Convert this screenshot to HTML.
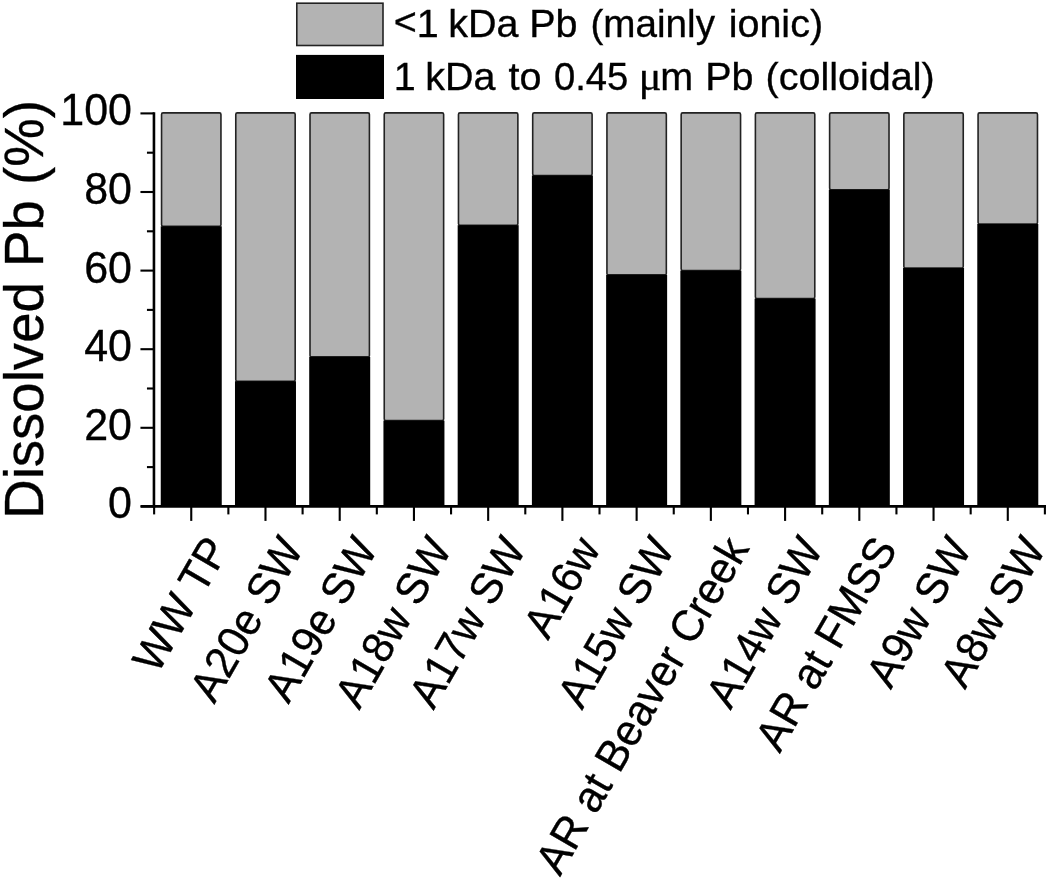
<!DOCTYPE html>
<html lang="en"><head><meta charset="utf-8"><title>Dissolved Pb chart</title>
<style>html,body{margin:0;padding:0;background:#fff;}svg{display:block;will-change:transform;}text{font-family:"Liberation Sans",sans-serif;fill:#000;stroke:#000;stroke-width:0.35px;}</style></head><body>
<svg width="1050" height="880" viewBox="0 0 1050 880">
<rect width="1050" height="880" fill="#fff"/>
<rect x="296.8" y="3.2" width="86.2" height="42.3" fill="#b3b3b3" stroke="#222" stroke-width="1.6"/>
<rect x="296" y="54.9" width="88" height="44.1" fill="#000"/>
<text y="36.8" font-size="39.5"><tspan x="393.66"><tspan dy="-1.7">&lt;</tspan><tspan dy="1.7">1</tspan></tspan> <tspan x="448.35">kDa</tspan> <tspan x="529.16">Pb</tspan> <tspan x="590.45" textLength="124.6" lengthAdjust="spacingAndGlyphs">(mainly</tspan> <tspan x="728.65">ionic)</tspan></text>
<text y="89.6" font-size="39.5"><tspan x="393.69">1</tspan> <tspan x="425.35">kDa</tspan> <tspan x="508.61">to</tspan> <tspan x="553.96" textLength="74.4" lengthAdjust="spacingAndGlyphs">0.45</tspan> <tspan x="638.68" font-size="42.27" style="font-family:'Liberation Serif',serif">μ</tspan><tspan x="660.29">m</tspan> <tspan x="705.26">Pb</tspan> <tspan x="765.55">(colloidal)</tspan></text>
<rect x="161.55" y="112.90" width="59.40" height="113.40" fill="#b3b3b3" stroke="#222" stroke-width="1.6" rx="1.5"/>
<rect x="160.75" y="226.30" width="61.00" height="280.10" fill="#000"/>
<rect x="235.78" y="112.90" width="59.40" height="268.30" fill="#b3b3b3" stroke="#222" stroke-width="1.6" rx="1.5"/>
<rect x="234.98" y="381.20" width="61.00" height="125.20" fill="#000"/>
<rect x="310.01" y="112.90" width="59.40" height="244.00" fill="#b3b3b3" stroke="#222" stroke-width="1.6" rx="1.5"/>
<rect x="309.21" y="356.90" width="61.00" height="149.50" fill="#000"/>
<rect x="384.24" y="112.90" width="59.40" height="307.70" fill="#b3b3b3" stroke="#222" stroke-width="1.6" rx="1.5"/>
<rect x="383.44" y="420.60" width="61.00" height="85.80" fill="#000"/>
<rect x="458.47" y="112.90" width="59.40" height="112.30" fill="#b3b3b3" stroke="#222" stroke-width="1.6" rx="1.5"/>
<rect x="457.67" y="225.20" width="61.00" height="281.20" fill="#000"/>
<rect x="532.70" y="112.90" width="59.40" height="62.60" fill="#b3b3b3" stroke="#222" stroke-width="1.6" rx="1.5"/>
<rect x="531.90" y="175.50" width="61.00" height="330.90" fill="#000"/>
<rect x="606.93" y="112.90" width="59.40" height="162.00" fill="#b3b3b3" stroke="#222" stroke-width="1.6" rx="1.5"/>
<rect x="606.13" y="274.90" width="61.00" height="231.50" fill="#000"/>
<rect x="681.16" y="112.90" width="59.40" height="157.70" fill="#b3b3b3" stroke="#222" stroke-width="1.6" rx="1.5"/>
<rect x="680.36" y="270.60" width="61.00" height="235.80" fill="#000"/>
<rect x="755.39" y="112.90" width="59.40" height="185.70" fill="#b3b3b3" stroke="#222" stroke-width="1.6" rx="1.5"/>
<rect x="754.59" y="298.60" width="61.00" height="207.80" fill="#000"/>
<rect x="829.62" y="112.90" width="59.40" height="76.80" fill="#b3b3b3" stroke="#222" stroke-width="1.6" rx="1.5"/>
<rect x="828.82" y="189.70" width="61.00" height="316.70" fill="#000"/>
<rect x="903.85" y="112.90" width="59.40" height="155.10" fill="#b3b3b3" stroke="#222" stroke-width="1.6" rx="1.5"/>
<rect x="903.05" y="268.00" width="61.00" height="238.40" fill="#000"/>
<rect x="978.08" y="112.90" width="59.40" height="111.10" fill="#b3b3b3" stroke="#222" stroke-width="1.6" rx="1.5"/>
<rect x="977.28" y="224.00" width="61.00" height="282.40" fill="#000"/>
<line x1="153.95" y1="112.2" x2="153.95" y2="507.7" stroke="#000" stroke-width="2.6"/>
<line x1="140.7" y1="506.4" x2="1046" y2="506.4" stroke="#000" stroke-width="2.6"/>
<line x1="140.45" y1="506.40" x2="153.95" y2="506.40" stroke="#000" stroke-width="2.1"/>
<text transform="translate(132.0,518.30) scale(1,1.045)" font-size="43.0" text-anchor="end">0</text>
<line x1="146.95" y1="467.10" x2="153.95" y2="467.10" stroke="#000" stroke-width="2.1"/>
<line x1="140.45" y1="427.80" x2="153.95" y2="427.80" stroke="#000" stroke-width="2.1"/>
<text transform="translate(132.0,439.70) scale(1,1.045)" font-size="43.0" text-anchor="end">20</text>
<line x1="146.95" y1="388.50" x2="153.95" y2="388.50" stroke="#000" stroke-width="2.1"/>
<line x1="140.45" y1="349.20" x2="153.95" y2="349.20" stroke="#000" stroke-width="2.1"/>
<text transform="translate(132.0,361.10) scale(1,1.045)" font-size="43.0" text-anchor="end">40</text>
<line x1="146.95" y1="309.90" x2="153.95" y2="309.90" stroke="#000" stroke-width="2.1"/>
<line x1="140.45" y1="270.60" x2="153.95" y2="270.60" stroke="#000" stroke-width="2.1"/>
<text transform="translate(132.0,282.50) scale(1,1.045)" font-size="43.0" text-anchor="end">60</text>
<line x1="146.95" y1="231.30" x2="153.95" y2="231.30" stroke="#000" stroke-width="2.1"/>
<line x1="140.45" y1="192.00" x2="153.95" y2="192.00" stroke="#000" stroke-width="2.1"/>
<text transform="translate(132.0,203.90) scale(1,1.045)" font-size="43.0" text-anchor="end">80</text>
<line x1="146.95" y1="152.70" x2="153.95" y2="152.70" stroke="#000" stroke-width="2.1"/>
<line x1="140.45" y1="113.40" x2="153.95" y2="113.40" stroke="#000" stroke-width="2.1"/>
<text transform="translate(132.0,125.30) scale(1,1.045)" font-size="43.0" text-anchor="end">100</text>
<line x1="191.25" y1="506.4" x2="191.25" y2="520.9" stroke="#000" stroke-width="2.1"/>
<line x1="265.48" y1="506.4" x2="265.48" y2="520.9" stroke="#000" stroke-width="2.1"/>
<line x1="339.71" y1="506.4" x2="339.71" y2="520.9" stroke="#000" stroke-width="2.1"/>
<line x1="413.94" y1="506.4" x2="413.94" y2="520.9" stroke="#000" stroke-width="2.1"/>
<line x1="488.17" y1="506.4" x2="488.17" y2="520.9" stroke="#000" stroke-width="2.1"/>
<line x1="562.40" y1="506.4" x2="562.40" y2="520.9" stroke="#000" stroke-width="2.1"/>
<line x1="636.63" y1="506.4" x2="636.63" y2="520.9" stroke="#000" stroke-width="2.1"/>
<line x1="710.86" y1="506.4" x2="710.86" y2="520.9" stroke="#000" stroke-width="2.1"/>
<line x1="785.09" y1="506.4" x2="785.09" y2="520.9" stroke="#000" stroke-width="2.1"/>
<line x1="859.32" y1="506.4" x2="859.32" y2="520.9" stroke="#000" stroke-width="2.1"/>
<line x1="933.55" y1="506.4" x2="933.55" y2="520.9" stroke="#000" stroke-width="2.1"/>
<line x1="1007.78" y1="506.4" x2="1007.78" y2="520.9" stroke="#000" stroke-width="2.1"/>
<line x1="154.13" y1="506.4" x2="154.13" y2="514.4" stroke="#000" stroke-width="2.1"/>
<line x1="228.37" y1="506.4" x2="228.37" y2="514.4" stroke="#000" stroke-width="2.1"/>
<line x1="302.60" y1="506.4" x2="302.60" y2="514.4" stroke="#000" stroke-width="2.1"/>
<line x1="376.82" y1="506.4" x2="376.82" y2="514.4" stroke="#000" stroke-width="2.1"/>
<line x1="451.06" y1="506.4" x2="451.06" y2="514.4" stroke="#000" stroke-width="2.1"/>
<line x1="525.29" y1="506.4" x2="525.29" y2="514.4" stroke="#000" stroke-width="2.1"/>
<line x1="599.51" y1="506.4" x2="599.51" y2="514.4" stroke="#000" stroke-width="2.1"/>
<line x1="673.75" y1="506.4" x2="673.75" y2="514.4" stroke="#000" stroke-width="2.1"/>
<line x1="747.98" y1="506.4" x2="747.98" y2="514.4" stroke="#000" stroke-width="2.1"/>
<line x1="822.21" y1="506.4" x2="822.21" y2="514.4" stroke="#000" stroke-width="2.1"/>
<line x1="896.44" y1="506.4" x2="896.44" y2="514.4" stroke="#000" stroke-width="2.1"/>
<line x1="970.67" y1="506.4" x2="970.67" y2="514.4" stroke="#000" stroke-width="2.1"/>
<line x1="1044.89" y1="506.4" x2="1044.89" y2="514.4" stroke="#000" stroke-width="2.1"/>
<text transform="translate(43.3,518.8) rotate(-90)" font-size="54.6">Dissolved Pb (%)</text>
<text transform="translate(230.25,548.50) rotate(-60) scale(1,1.035)" font-size="42.7" text-anchor="end">WW TP</text>
<text transform="translate(304.48,548.50) rotate(-60) scale(1,1.035)" font-size="42.7" text-anchor="end">A20e SW</text>
<text transform="translate(378.71,548.50) rotate(-60) scale(1,1.035)" font-size="42.7" text-anchor="end">A19e SW</text>
<text transform="translate(452.94,548.50) rotate(-60) scale(1,1.035)" font-size="42.7" text-anchor="end">A18w SW</text>
<text transform="translate(527.17,548.50) rotate(-60) scale(1,1.035)" font-size="42.7" text-anchor="end">A17w SW</text>
<text transform="translate(601.40,548.50) rotate(-60) scale(1,1.035)" font-size="42.7" text-anchor="end">A16w</text>
<text transform="translate(675.63,548.50) rotate(-60) scale(1,1.035)" font-size="42.7" text-anchor="end">A15w SW</text>
<text transform="translate(749.86,548.50) rotate(-60) scale(1,1.035)" font-size="42.7" text-anchor="end">AR at Beaver Creek</text>
<text transform="translate(824.09,548.50) rotate(-60) scale(1,1.035)" font-size="42.7" text-anchor="end">A14w SW</text>
<text transform="translate(898.32,548.50) rotate(-60) scale(1,1.035)" font-size="42.7" text-anchor="end">AR at FMSS</text>
<text transform="translate(972.55,548.50) rotate(-60) scale(1,1.035)" font-size="42.7" text-anchor="end">A9w SW</text>
<text transform="translate(1046.78,548.50) rotate(-60) scale(1,1.035)" font-size="42.7" text-anchor="end">A8w SW</text>
</svg></body></html>
